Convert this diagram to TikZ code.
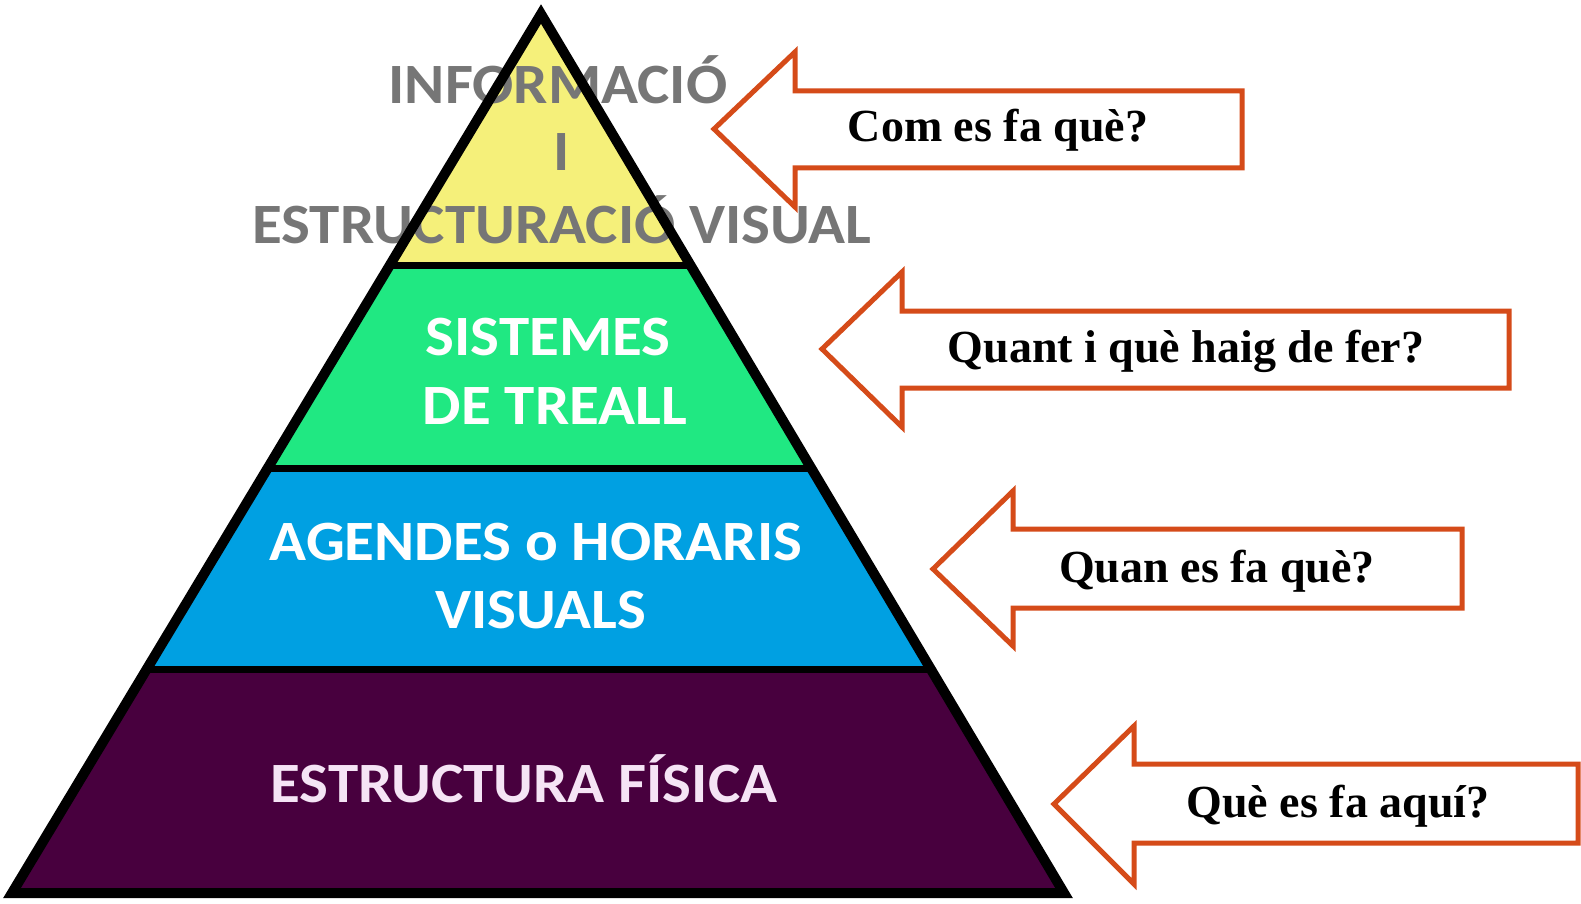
\documentclass[tikz,border=0pt]{standalone}
\usepackage{fontspec}
\setmainfont{Liberation Serif}
\newfontfamily\pyrfont{Carlito}
\definecolor{arrowred}{RGB}{213,75,25}
\definecolor{layyellow}{RGB}{245,240,122}
\definecolor{laygreen}{RGB}{32,232,130}
\definecolor{layblue}{RGB}{0,160,226}
\definecolor{laypurple}{RGB}{72,0,62}
\definecolor{topgray}{RGB}{118,118,118}
\definecolor{pinkwhite}{RGB}{245,228,245}
\newcommand\widetxt[1]{\scalebox{1.07}[1]{#1}}
\begin{document}
\begin{tikzpicture}[x=1pt,y=-1pt,
  pyrtext/.style={font=\pyrfont\bfseries\fontsize{57}{60}\selectfont, text=white, inner sep=0pt, anchor=base},
  toptext/.style={pyrtext, text=topgray},
  qtext/.style={font=\bfseries\fontsize{46}{50}\selectfont, text=black, inner sep=0pt, anchor=base},
  arrowshape/.style={draw=arrowred, line width=5pt, fill=white, line join=miter},
  outline/.style={draw=black, line width=10pt, line join=miter},
  sepline/.style={draw=black, line width=7pt}]
\useasboundingbox[fill=white] (0,0) rectangle (1581,904);

\coordinate (apex) at (541,14);
\coordinate (bl) at (12,893);
\coordinate (br) at (1064,893);

% layers
\begin{scope}
  \clip (apex) -- (bl) -- (br) -- cycle;
  \fill[layyellow] (0,0) rectangle (1100,265);
  \fill[laygreen] (0,265) rectangle (1100,468);
  \fill[layblue] (0,468) rectangle (1100,669);
  \fill[laypurple] (0,669) rectangle (1100,904);
  \draw[sepline] (0,265) -- (1100,265);
  \draw[sepline] (0,468) -- (1100,468);
  \draw[sepline] (0,669) -- (1100,669);
\end{scope}

% layer texts
\node[toptext] (t1) at (558,104) {\widetxt{INFORMACIÓ}};
\node[toptext] (t2) at (562,171) {\widetxt{I}};
\node[toptext] (t3) at (562,243) {\widetxt{ESTRUCTURACIÓ VISUAL}};
\node[pyrtext] (g1) at (548,355) {\widetxt{SISTEMES}};
\node[pyrtext] (g2) at (555,424) {\widetxt{DE TREALL}};
\node[pyrtext] (b1) at (536,560) {\widetxt{AGENDES o HORARIS}};
\node[pyrtext] (b2) at (541,628) {\widetxt{VISUALS}};
\node[pyrtext, text=pinkwhite] (p1) at (524,802) {\widetxt{ESTRUCTURA FÍSICA}};

% outline
\draw[outline] (apex) -- (bl) -- (br) -- cycle;

% arrows
\draw[arrowshape] (714,129) -- (795,52) -- (795,91) -- (1242,91) -- (1242,168) -- (795,168) -- (795,207) -- cycle;
\node[qtext] (q1) at (998,142) {Com es fa què?};

\draw[arrowshape] (822,349) -- (902,272) -- (902,311) -- (1509,311) -- (1509,388) -- (902,388) -- (902,427) -- cycle;
\node[qtext] (q2) at (1186,362) {Quant i què haig de fer?};

\draw[arrowshape] (933,569) -- (1013,491) -- (1013,529) -- (1462,529) -- (1462,608) -- (1013,608) -- (1013,646) -- cycle;
\node[qtext] (q3) at (1217,582) {Quan es fa què?};

\draw[arrowshape] (1054,804) -- (1134,726) -- (1134,764) -- (1578,764) -- (1578,843) -- (1134,843) -- (1134,884) -- cycle;
\node[qtext] (q4) at (1338,817) {Què es fa aquí?};
\end{tikzpicture}
\end{document}
